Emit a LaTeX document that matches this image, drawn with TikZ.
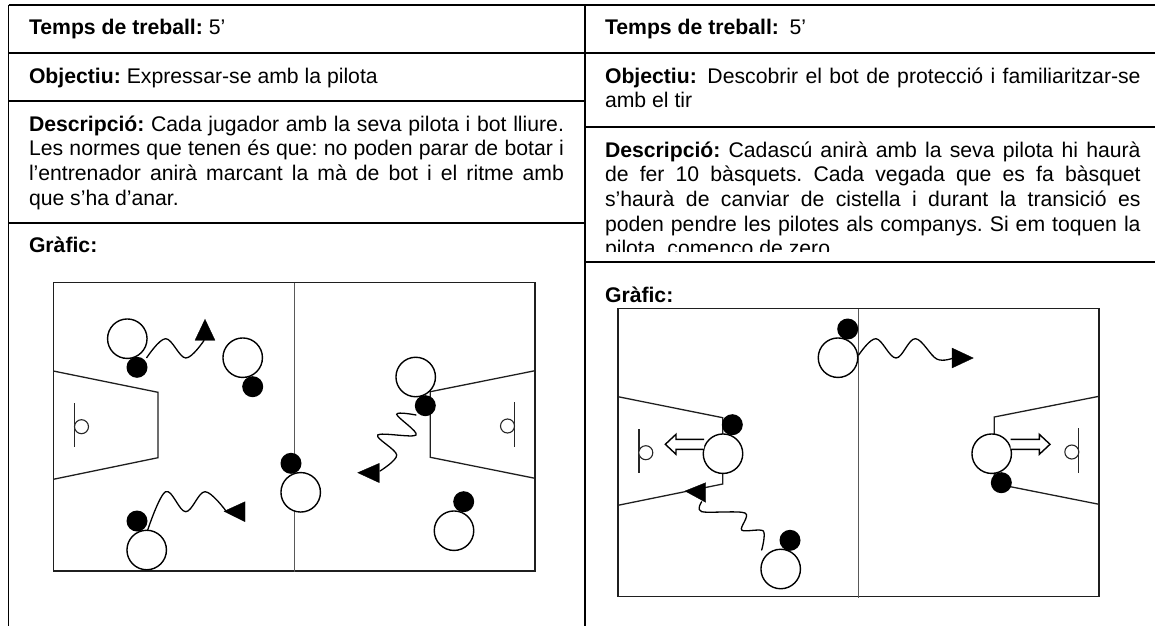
\documentclass[tikz,border=0pt]{standalone}
\usepackage{fontspec}
\setmainfont{Liberation Sans}
\frenchspacing
\tikzset{
  rule/.style={black,line width=1.5pt},
  courtline/.style={draw=black!88,line width=1.5pt},
  midline/.style={draw=black!65,line width=1.5pt},
  player/.style={circle,draw=black,fill=white,line width=1.4pt,minimum size=39.5pt,inner sep=0pt},
  ballmark/.style={circle,fill=black,minimum size=21pt,inner sep=0pt},
  hoopmark/.style={circle,draw=black!85,fill=white,line width=1.1pt,minimum size=14pt,inner sep=0pt},
  boardline/.style={draw=black!85,line width=1.5pt},
  wave/.style={draw=black,line width=1.3pt,line cap=round},
  head/.style={fill=black,draw=black,line width=0.3pt,line join=miter},
  hollow/.style={draw=black,fill=white,line width=1.4pt,line join=miter},
  body/.style={anchor=north west,inner sep=0pt,outer sep=0pt,text width=#1,align=justify,
    font=\fontsize{21.2}{24.7}\selectfont\frenchspacing},
}
\begin{document}
\begin{tikzpicture}[x=1pt,y=-1pt]
\useasboundingbox (0,0) rectangle (1155,626);
% table rules
\draw[rule] (8.6,5) -- (1155,5);
\draw[rule] (8.6,5) -- (8.6,626);
\draw[rule] (585,5) -- (585,626);
\draw[rule] (8.6,53) -- (585,53);
\draw[rule] (8.6,101) -- (585,101);
\draw[rule] (8.6,223) -- (585,223);
\draw[rule] (585,53) -- (1155,53);
\draw[rule] (585,127) -- (1155,127);
\draw[rule] (585,262) -- (1155,262);
% left texts
\node[body=535pt] (t1) at (29,19.5) {\textbf{Temps de treball:} 5’};
\node[body=535pt] (o1) at (29,68) {\textbf{Objectiu:} Expressar-se amb la pilota};
\node[body=535pt] (d1) at (29,115.5) {\textbf{Descripció:} Cada jugador amb la seva pilota i bot lliure.\linebreak Les normes que tenen és que: no poden parar de botar i\linebreak l’entrenador anirà marcant la mà de bot i el ritme amb\linebreak que s’ha d’anar.};
\node[body=535pt] (g1) at (29,236.5) {\textbf{Gràfic:}};
% right texts
\node[body=535.6pt] (t2) at (605,19.5) {\textbf{Temps de treball:}\hspace{0.5em}5’};
\node[body=535.6pt] (o2) at (605,67.5) {\textbf{Objectiu:}\hspace{0.5em}Descobrir el bot de protecció i familiaritzar-se\linebreak amb el tir};
\begin{scope}
\clip (590,130) rectangle (1155,251.5);
\node[body=535.6pt] (d2) at (605,141.5) {\textbf{Descripció:} Cadascú anirà amb la seva pilota hi haurà\linebreak de fer 10 bàsquets. Cada vegada que es fa bàsquet\linebreak s’haurà de canviar de cistella i durant la transició es\linebreak poden pendre les pilotes als companys. Si em toquen la\linebreak pilota, començo de zero};
\end{scope}
\node[body=535.6pt] (g2) at (605,286.5) {\textbf{Gràfic:}};

% ---------- left court
\draw[courtline] (53.3,282.7) rectangle (535,571);
\draw[midline] (294.3,282.7) -- (294.3,572);
\draw[courtline,line width=1.3pt] (53.3,371) -- (158,392.3) -- (158,457.7) -- (53.3,479.3);
\draw[courtline,line width=1.3pt] (535,370.7) -- (430.3,391.7) -- (430.3,457.3) -- (535,478.3);
\draw[boardline] (74.7,403.3) -- (74.7,447.3);
\node[hoopmark] (h1) at (81.5,426.7) {};
\draw[boardline] (514.3,402) -- (514.3,446.7);
\node[hoopmark] (h2) at (507.5,426) {};

\node[ballmark] (b1) at (137,367.3) {};
\node[player] (p1) at (127.3,338.7) {};
\node[ballmark] (b2) at (252.7,386.7) {};
\node[player] (p2) at (242.7,357.7) {};
\node[ballmark] (b3) at (137,521) {};
\node[player] (p3) at (146.7,550) {};
\node[ballmark] (b4) at (291,463.3) {};
\node[player] (p4) at (300.7,492.3) {};
\node[player] (p5) at (415.7,377) {};
\node[ballmark] (b5) at (425.3,405.7) {};
\node[ballmark] (b6) at (463.7,501.7) {};
\node[player] (p6) at (454,530.7) {};

\coordinate (w1s) at (146.7,357.7);
\coordinate (w1e) at (204,340.5);
\draw[wave] plot[smooth,tension=0.6] coordinates {(w1s) (165.7,338.7) (185.7,358) (w1e)};
\fill[head] (205,319.3) -- (195,340.3) -- (215,340.3) -- cycle;

\coordinate (w2s) at (147.7,530);
\coordinate (w2e) at (226,511);
\draw[wave] plot[smooth,tension=0.6] coordinates {(w2s) (165.7,491.7) (185.7,511.7) (205,491.7) (w2e)};
\fill[head] (224,511.3) -- (245,501.7) -- (245,521.7) -- cycle;

\coordinate (w3s) at (416,415);
\coordinate (w3e) at (380,471);
\draw[wave] plot[smooth,tension=0.55] coordinates {(w3s) (396.7,414.3) (416,435) (377.7,435) (396.7,455) (w3e)};
\fill[head] (357.7,472.7) -- (379.3,463.3) -- (379.3,482.7) -- cycle;

% ---------- right court
\draw[courtline] (618,308.7) rectangle (1099,596.7);
\draw[midline] (858.7,308.7) -- (858.7,598);
\draw[courtline,line width=1.3pt] (618,396.7) -- (722.7,417.7) -- (722.7,484) -- (618,505.3);
\draw[courtline,line width=1.3pt] (1099,396.3) -- (994.3,417) -- (994.3,483.5) -- (1099,504.3);
\draw[boardline] (639,429) -- (639,473.3);
\node[hoopmark] (h3) at (645.8,452.7) {};
\draw[boardline] (1078.7,428) -- (1078.7,472.7);
\node[hoopmark] (h4) at (1071.8,452) {};

\node[ballmark] (b7) at (847.7,329) {};
\node[player] (p7) at (838,357.7) {};
\node[ballmark] (b8) at (732.3,424.7) {};
\node[player] (p8) at (723,453.7) {};
\node[ballmark] (b9) at (790,540.3) {};
\node[player] (p9) at (780.7,569) {};
\node[ballmark] (b10) at (1001.3,482.7) {};
\node[player] (p10) at (991.7,453.7) {};

\coordinate (w4s) at (858.7,355);
\coordinate (w4e) at (953.3,358);
\draw[wave] plot[smooth,tension=0.6] coordinates {(w4s) (876,338.7) (896,358) (915.3,338.7) (936.7,359) (w4e)};
\fill[head] (973.3,358) -- (952,348) -- (952,368) -- cycle;

\coordinate (w5s) at (761.7,550);
\coordinate (w5e) at (701.7,501.7);
\draw[wave] plot[smooth,tension=0.5] coordinates {(w5s) (763.3,531) (741.7,530) (745,513) (701.7,511.7) (w5e)};
\fill[head] (685,491) -- (705.7,482.7) -- (705.7,502.3) -- cycle;

\draw[hollow] (704,439.3) -- (676,439.3) -- (676,434.3) -- (665.3,444.3) -- (676,454.3) -- (676,449.3) -- (704,449.3);
\draw[hollow] (1010.7,439.3) -- (1039.3,439.3) -- (1039.3,434.3) -- (1050,444.3) -- (1039.3,454.3) -- (1039.3,449.3) -- (1010.7,449.3);
\end{tikzpicture}
\end{document}
